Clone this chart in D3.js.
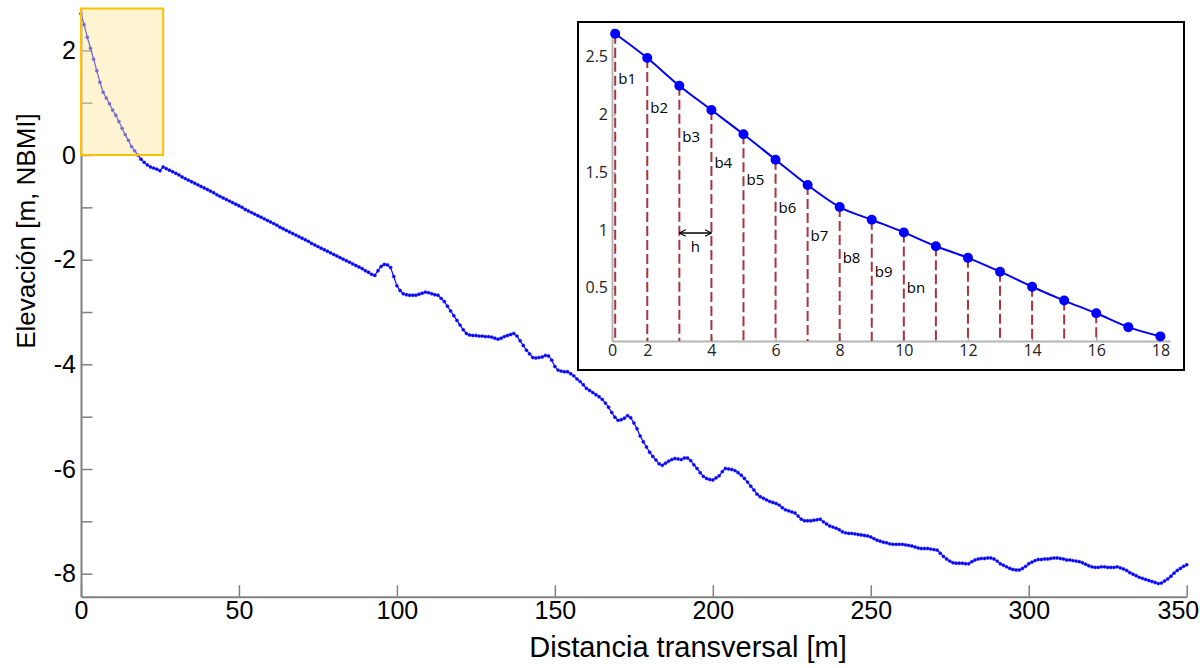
<!DOCTYPE html>
<html><head><meta charset="utf-8">
<script src="https://cdn.jsdelivr.net/npm/d3@7"></script>
<style>
html,body{margin:0;padding:0;background:#fff;}
svg{display:block;}
</style></head><body>
<svg id="chart" width="1200" height="668"></svg>
<script>
// beach profile, one station per metre starting at 0 m
const profileElev=[
 2.70,2.49,2.25,2.04,1.83,1.61,1.39,1.20,1.09,0.98,0.86,0.76,0.64,0.51,0.39,0.28,0.16,0.08,0.00,-0.08,
 -0.14,-0.19,-0.23,-0.25,-0.27,-0.30,-0.23,-0.26,-0.29,-0.32,-0.35,-0.38,-0.42,-0.45,-0.48,-0.51,-0.54,-0.57,-0.60,-0.63,
 -0.66,-0.69,-0.72,-0.76,-0.79,-0.82,-0.85,-0.88,-0.91,-0.94,-0.97,-1.00,-1.04,-1.07,-1.10,-1.13,-1.16,-1.19,-1.22,-1.25,
 -1.28,-1.31,-1.34,-1.38,-1.41,-1.44,-1.47,-1.50,-1.53,-1.56,-1.59,-1.62,-1.65,-1.69,-1.72,-1.75,-1.78,-1.81,-1.84,-1.87,
 -1.90,-1.93,-1.96,-1.99,-2.02,-2.05,-2.08,-2.11,-2.14,-2.17,-2.21,-2.24,-2.28,-2.30,-2.21,-2.13,-2.09,-2.10,-2.15,-2.32,
 -2.50,-2.59,-2.65,-2.67,-2.68,-2.68,-2.68,-2.66,-2.64,-2.62,-2.63,-2.65,-2.67,-2.68,-2.74,-2.80,-2.89,-2.98,-3.07,-3.16,
 -3.25,-3.34,-3.41,-3.44,-3.45,-3.45,-3.46,-3.46,-3.47,-3.47,-3.48,-3.50,-3.52,-3.50,-3.47,-3.45,-3.43,-3.41,-3.46,-3.55,
 -3.64,-3.73,-3.80,-3.87,-3.88,-3.87,-3.86,-3.83,-3.84,-3.92,-4.04,-4.11,-4.13,-4.14,-4.14,-4.18,-4.22,-4.28,-4.33,-4.39,
 -4.46,-4.50,-4.54,-4.58,-4.62,-4.67,-4.74,-4.82,-4.92,-5.01,-5.07,-5.06,-5.03,-4.98,-5.02,-5.12,-5.23,-5.37,-5.48,-5.58,
 -5.68,-5.76,-5.83,-5.90,-5.93,-5.89,-5.85,-5.82,-5.80,-5.81,-5.82,-5.79,-5.79,-5.84,-5.92,-5.99,-6.07,-6.14,-6.18,-6.20,
 -6.21,-6.17,-6.13,-6.05,-5.99,-6.00,-6.01,-6.03,-6.07,-6.12,-6.18,-6.25,-6.33,-6.40,-6.48,-6.53,-6.56,-6.59,-6.62,-6.64,
 -6.66,-6.69,-6.74,-6.78,-6.80,-6.82,-6.84,-6.90,-6.96,-6.99,-6.99,-6.99,-6.98,-6.97,-6.96,-7.01,-7.05,-7.09,-7.11,-7.13,
 -7.16,-7.20,-7.22,-7.23,-7.23,-7.24,-7.25,-7.26,-7.27,-7.28,-7.30,-7.33,-7.36,-7.38,-7.40,-7.41,-7.43,-7.44,-7.44,-7.44,
 -7.44,-7.45,-7.46,-7.47,-7.49,-7.51,-7.52,-7.52,-7.52,-7.53,-7.54,-7.55,-7.61,-7.67,-7.72,-7.76,-7.79,-7.80,-7.80,-7.80,
 -7.81,-7.81,-7.77,-7.74,-7.72,-7.71,-7.71,-7.70,-7.70,-7.72,-7.76,-7.81,-7.84,-7.87,-7.90,-7.92,-7.93,-7.93,-7.90,-7.86,
 -7.81,-7.78,-7.75,-7.73,-7.73,-7.72,-7.72,-7.71,-7.70,-7.70,-7.71,-7.72,-7.74,-7.74,-7.75,-7.76,-7.77,-7.79,-7.82,-7.85,
 -7.87,-7.88,-7.88,-7.87,-7.87,-7.88,-7.88,-7.88,-7.87,-7.89,-7.91,-7.94,-7.98,-8.01,-8.04,-8.07,-8.09,-8.11,-8.13,-8.15,
 -8.17,-8.19,-8.18,-8.14,-8.10,-8.05,-7.99,-7.94,-7.90,-7.86,-7.83
];
const stationStep=1;
const xTicks=[0,50,100,150,200,250,300,350];
const yTicks=[-8,-7,-6,-5,-4,-3,-2,-1,0,1,2];
const yLabelled=[-8,-6,-4,-2,0,2];
const zoomBox={x0:0,x1:26,y0:0,y1:2.8};

// inset: zoom of the first stations with the strips b1..bn
const insetX=[1,2,3,4,5,6,7,8,9,10,11,12,13,14,15,16,17,18];
const insetY=[2.70,2.49,2.25,2.04,1.83,1.61,1.39,1.20,1.09,0.98,0.86,0.76,0.64,0.51,0.39,0.28,0.16,0.08];
const insetXTicks=[0,2,4,6,8,10,12,14,16,18];
const insetYTicks=[0.5,1,1.5,2,2.5];
const stripCount=16;
const stripLabels=["b1","b2","b3","b4","b5","b6","b7","b8","b9","bn"];
const stripLabelElev=[2.31,2.06,1.81,1.58,1.44,1.19,0.95,0.76,0.64,0.50];

const svg=d3.select("#chart");
const FONT="'Liberation Sans', Arial, sans-serif";

const x=d3.scaleLinear().domain([0,350]).range([81,1186.7]);
const y=d3.scaleLinear().domain([-8.44,2.8]).range([596.7,8.5]);

// axes (plain hyphen minus, like the original)
const gx=svg.append("g").attr("transform",`translate(0,${y.range()[0]})`)
  .call(d3.axisBottom(x).tickValues(xTicks).tickSize(-11.5).tickPadding(5).tickSizeOuter(0)
    .tickFormat(d=>String(d)));
const gy=svg.append("g").attr("transform",`translate(${x.range()[0]},0)`)
  .call(d3.axisLeft(y).tickValues(yTicks).tickSize(-11.5).tickPadding(5).tickSizeOuter(0)
    .tickFormat(d=>yLabelled.includes(d)?String(d):""));
[gx,gy].forEach(g=>{
  g.select(".domain").attr("stroke","#808080").attr("stroke-width",2);
  g.selectAll(".tick line").attr("stroke","#808080").attr("stroke-width",1.5);
  g.selectAll(".tick text").attr("fill","#000").style("font-family",FONT).style("font-size","25px");
});
// last x label sits against the right edge
gx.selectAll(".tick text").filter(d=>d===xTicks[xTicks.length-1])
  .attr("text-anchor","end").attr("x",12);

svg.append("text").attr("x",688).attr("y",656.7).attr("text-anchor","middle")
  .style("font-family",FONT).style("font-size","29px").attr("fill","#000")
  .text("Distancia transversal [m]");
svg.append("text").attr("transform","translate(35,231) rotate(-90)").attr("text-anchor","middle")
  .style("font-family",FONT).style("font-size","26px").attr("fill","#000")
  .text("Elevación [m, NBMI]");

// profile
const pts=profileElev.map((v,i)=>({x:i*stationStep,y:v}));
svg.append("path").datum(pts)
  .attr("d",d3.line().x(d=>x(d.x)).y(d=>y(d.y)))
  .attr("fill","none").attr("stroke","#0000ff").attr("stroke-width",1.2);
svg.append("g").selectAll("circle").data(pts).join("circle")
  .attr("cx",d=>x(d.x)).attr("cy",d=>y(d.y)).attr("r",1.7)
  .attr("fill","#0000ff").attr("stroke","rgba(80,80,255,0.35)").attr("stroke-width",1);

// highlighted zoom region
svg.append("rect")
  .attr("x",x(zoomBox.x0)).attr("y",y(zoomBox.y1))
  .attr("width",x(zoomBox.x1)-x(zoomBox.x0)).attr("height",y(zoomBox.y0)-y(zoomBox.y1))
  .attr("fill","#ffe699").attr("fill-opacity",0.45)
  .attr("stroke","#ffc000").attr("stroke-width",2);

// ---- inset ----
const ix=d3.scaleLinear().domain([0.9,18.3]).range([612,1170]);
const iy=d3.scaleLinear().domain([0.04,2.75]).range([341,28]);
const inset=svg.append("g");
inset.append("rect").attr("x",578).attr("y",22).attr("width",606).attr("height",348)
  .attr("fill","#fff").attr("stroke","#000").attr("stroke-width",2);

const defs=svg.append("defs");
defs.append("marker").attr("id","arr").attr("viewBox","0 0 10 10")
  .attr("refX",9).attr("refY",5).attr("markerWidth",8).attr("markerHeight",8)
  .attr("markerUnits","userSpaceOnUse").attr("orient","auto-start-reverse")
  .append("path").attr("d","M1,1 L9,5 L1,9").attr("fill","none").attr("stroke","#000").attr("stroke-width",1.4);

const IFONT="'Open Sans', 'Noto Sans', sans-serif";
const iax=inset.append("g").attr("transform",`translate(0,${iy.range()[0]})`)
  .call(d3.axisBottom(ix)
    .tickValues(insetXTicks.map(v=>Math.max(v,ix.domain()[0])))
    .tickFormat(d=>d<1?"0":String(d))
    .tickSize(-4).tickPadding(4).tickSizeOuter(0));
const iay=inset.append("g").attr("transform",`translate(${ix.range()[0]},0)`)
  .call(d3.axisLeft(iy).tickValues(insetYTicks).tickFormat(d=>String(d))
    .tickSize(-4).tickPadding(4).tickSizeOuter(0));
[iax,iay].forEach(g=>{
  g.select(".domain").attr("stroke","#b4b4b4").attr("stroke-width",2);
  g.selectAll(".tick line").attr("stroke","#b4b4b4").attr("stroke-width",1.5);
  g.selectAll(".tick text").attr("fill","#222").style("font-family",IFONT).style("font-size","16px");
});

const ipts=insetX.map((v,i)=>({x:v,y:insetY[i]}));
inset.append("g").selectAll("line").data(ipts.slice(0,stripCount)).join("line")
  .attr("x1",d=>ix(d.x)).attr("x2",d=>ix(d.x))
  .attr("y1",d=>iy(d.y)).attr("y2",iy.range()[0])
  .attr("stroke","#a8363a").attr("stroke-width",2).attr("stroke-dasharray","10,4");

inset.append("path").datum(ipts)
  .attr("d",d3.line().x(d=>ix(d.x)).y(d=>iy(d.y)).curve(d3.curveMonotoneX))
  .attr("fill","none").attr("stroke","#0000ff").attr("stroke-width",2);
inset.append("g").selectAll("circle").data(ipts).join("circle")
  .attr("cx",d=>ix(d.x)).attr("cy",d=>iy(d.y)).attr("r",5)
  .attr("fill","#0000ff");

inset.append("g").selectAll("text").data(stripLabels).join("text")
  .attr("x",(d,i)=>ix(insetX[i])+3).attr("y",(d,i)=>iy(stripLabelElev[i]))
  .attr("dy","0.35em").attr("fill","#000")
  .style("font-family",IFONT).style("font-size","15px").text(d=>d);

// spacing h between two strips
const hy=iy(0.975);
inset.append("line").attr("x1",ix(insetX[2])).attr("x2",ix(insetX[3]))
  .attr("y1",hy).attr("y2",hy).attr("stroke","#000").attr("stroke-width",1.4)
  .attr("marker-start","url(#arr)").attr("marker-end","url(#arr)");
inset.append("text").attr("x",(ix(insetX[2])+ix(insetX[3]))/2).attr("y",hy+14)
  .attr("text-anchor","middle").attr("dy","0.35em").attr("fill","#000")
  .style("font-family",IFONT).style("font-size","15px").text("h");
</script>
</body></html>
